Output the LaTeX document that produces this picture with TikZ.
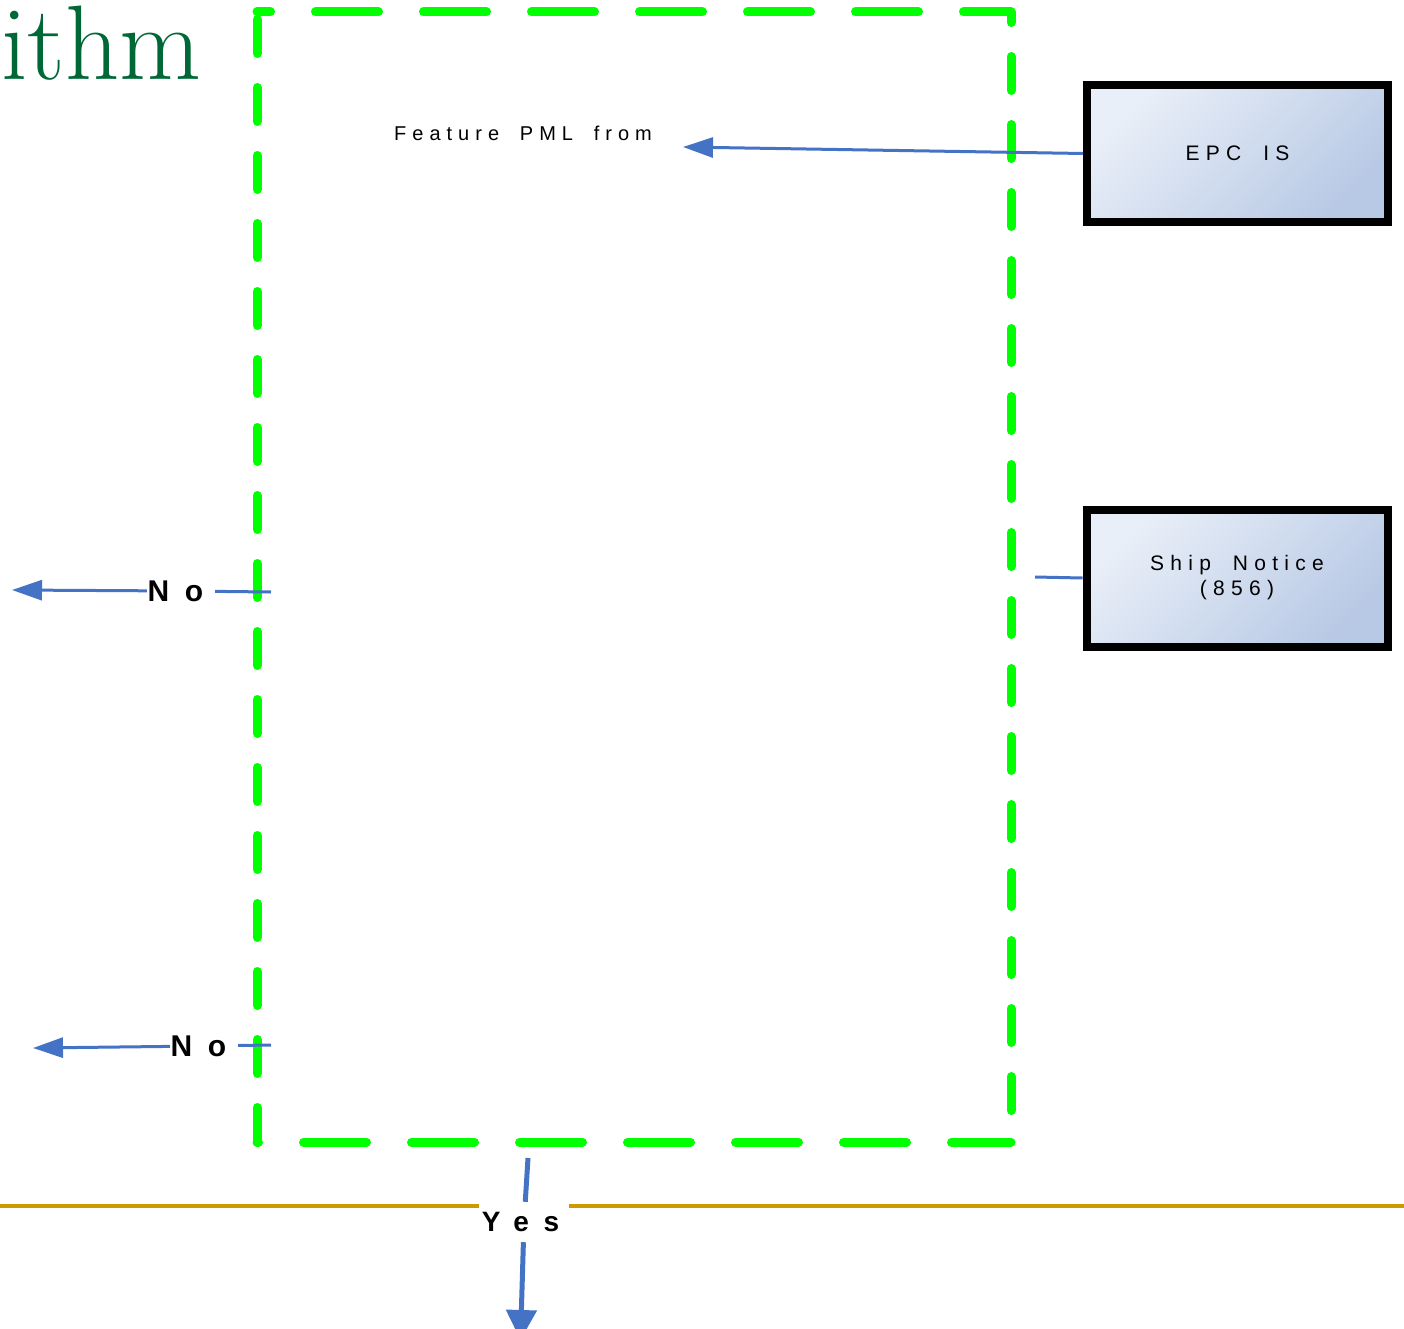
\documentclass[tikz,border=0pt]{standalone}
\usepackage{fontspec}
\newfontfamily\boxfont[LetterSpace=30,WordSpace=1.25]{Liberation Sans}
\newfontfamily\notefont[LetterSpace=30,WordSpace=1.8]{Liberation Sans}
\newfontfamily\tagfont[LetterSpace=52]{Liberation Sans}
\usetikzlibrary{arrows.meta}
\definecolor{titlegreen}{RGB}{0,104,55}
\definecolor{framegreen}{RGB}{0,255,0}
\definecolor{linkblue}{RGB}{68,114,196}
\definecolor{rulegold}{RGB}{204,153,0}
\definecolor{boxtop}{RGB}{233,239,248}
\definecolor{boxbot}{RGB}{184,201,229}
\begin{document}
\begin{tikzpicture}[x=1pt,y=-1pt,
    sys/.style={draw=black,line width=8pt,minimum width=301pt,minimum height=137pt,
      top color=boxtop,bottom color=boxbot,shading angle=45,align=center,
      font=\boxfont\fontsize{21}{25}\selectfont},
    tag/.style={fill=white,inner sep=0pt,minimum width=68pt,minimum height=40pt,
      font=\tagfont\bfseries\fontsize{30}{30}\selectfont},
    link/.style={draw=linkblue,line width=3pt},
    tip/.style={-{Triangle[length=30pt,width=20pt]}},
    side/.style={draw=framegreen,line width=9pt,line cap=round}]
  \useasboundingbox (0,0) rectangle (1404,1329);
  \node[anchor=base west,inner sep=0pt,text=titlegreen,
    font=\fontsize{106}{106}\selectfont] (title) at (1,80) {ithm};
  % dashed frame
  \draw[side,dash pattern=on 63pt off 45pt,dash phase=49.5pt] (257,12) -- (1011,12);
  \draw[side,dash pattern=on 34pt off 34pt,dash phase=23.5pt] (1011,12) -- (1011,1142);
  \draw[side,dash pattern=on 63pt off 45pt,dash phase=61.5pt] (257,1142) -- (1011,1142);
  \draw[side,dash pattern=on 34pt off 34pt,dash phase=60.5pt] (257,12) -- (257,1142);
  % gold rule
  \coordinate (r0) at (0,1206);
  \coordinate (r1) at (1404,1206);
  \draw[rulegold,line width=4pt] (r0) -- (r1);
  % boxes
  \node[sys] (epc) at (1237.5,153.5) {EPC IS};
  \node[sys] (ship) at (1237,578) {Ship Notice\\(856)};
  \node[anchor=base west,inner sep=0pt,font=\notefont\fontsize{20}{24}\selectfont]
    (feat) at (394,141) {Feature PML from};
  % labels
  \node[tag] (no1) at (181,591) {\kern-11pt No};
  \node[tag] (no2) at (204,1046) {\kern-11pt No};
  \node[tag,minimum width=90pt,font=\tagfont\bfseries\fontsize{28}{28}\selectfont]
    (yes) at (524,1222) {\kern-7pt Yes};
  % connectors
  \coordinate (f) at (683,147);
  \coordinate (s) at (1035,577);
  \coordinate (n1a) at (271,592);
  \coordinate (n1b) at (12,590);
  \coordinate (n2a) at (271,1045);
  \coordinate (n2b) at (33,1048);
  \coordinate (ya) at (528,1158);
  \coordinate (yb) at (520.5,1340);
  \draw[link,tip] (epc.west) -- (f);
  \draw[link] (ship.west) -- (s);
  \draw[link,tip] (n1a) -- (no1) -- (n1b);
  \draw[link,tip] (n2a) -- (no2) -- (n2b);
  \draw[link,line width=5pt,-{Triangle[length=30pt,width=30pt]}] (ya) -- (yes) -- (yb);
\end{tikzpicture}
\end{document}
